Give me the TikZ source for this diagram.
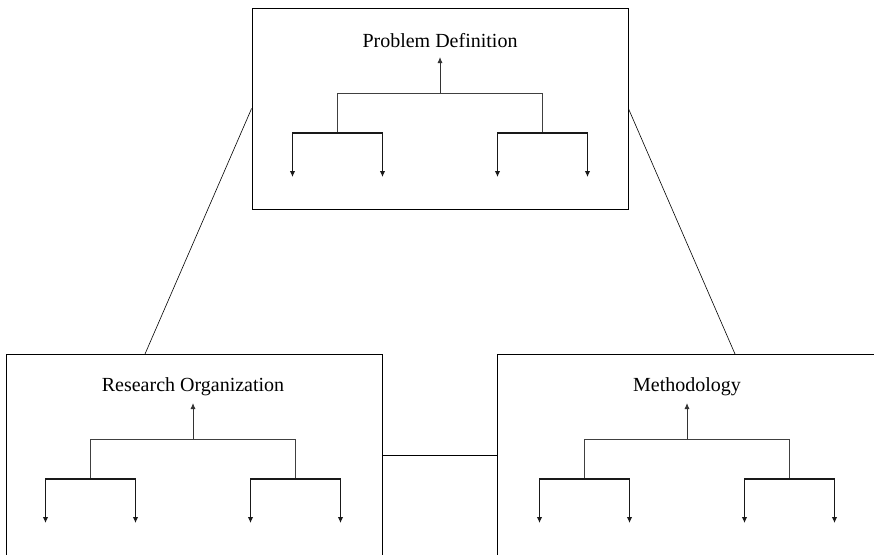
\documentclass[tikz,border=0pt]{standalone}
\usepackage{fontspec}
\setmainfont{Liberation Serif}
\usetikzlibrary{arrows.meta}
\begin{document}
\begin{tikzpicture}[x=1pt,y=-1pt,
  box/.style={draw, line width=0.8pt, minimum width=376pt, minimum height=201pt, inner sep=0pt},
  link/.style={draw, line width=0.6pt},
  branch/.style={draw, line width=0.9pt, black!75},
  drop/.style={draw, line width=1.1pt, black!90, -{Latex[length=6pt,width=5.5pt]}},
  rise/.style={draw, line width=0.9pt, black!80, -{Latex[length=6pt,width=5pt]}},
  heading/.style={font=\fontsize{20}{24}\selectfont, inner sep=0pt},
  tree/.pic={
    % label, stem and two-level hierarchy below it
    \node[heading] (-label) at (0,-52) {#1};
    \coordinate (-tip) at (0,-36);
    \coordinate (-l) at (-102.5,0);
    \coordinate (-r) at (102.5,0);
    \coordinate (-ld) at (-102.5,40);
    \coordinate (-rd) at (102.5,40);
    \coordinate (-ll) at (-147.5,40);
    \coordinate (-lr) at (-57.5,40);
    \coordinate (-rl) at (57.5,40);
    \coordinate (-rr) at (147.5,40);
    \coordinate (-a1) at (-147.5,84);
    \coordinate (-a2) at (-57.5,84);
    \coordinate (-a3) at (57.5,84);
    \coordinate (-a4) at (147.5,84);
    \draw[rise] (0,0) -- (-tip);
    \draw[branch] (-ld) -- (-l) -- (-r) -- (-rd);
    \draw[drop] (-lr) -- (-ll) -- (-a1);
    \draw[drop] (-lr) -- (-a2);
    \draw[drop] (-rr) -- (-rl) -- (-a3);
    \draw[drop] (-rr) -- (-a4);
  }
]
\useasboundingbox (0,0) rectangle (874,554);
\clip (0,0) rectangle (874,554);
\fill[white] (0,0) rectangle (874,554);

% the three boxes
\node[box] (pd) at (440,108.5) {};
\node[box] (ro) at (194,455) {};
\node[box, minimum width=384pt] (me) at (689,455) {};

% trees inside the boxes
\pic (t1) at (440,93) {tree={Problem Definition}};
\pic (t2) at (193,439) {tree={Research Organization}};
\pic (t3) at (687,439) {tree={Methodology}};

% links between the boxes
\coordinate (rotop) at (145,354);
\coordinate (metop) at (735,354);
\draw[link] (pd.west) -- (rotop);
\draw[link] (pd.east) -- (metop);
\draw[link] (ro.east) -- (me.west);
\end{tikzpicture}
\end{document}
